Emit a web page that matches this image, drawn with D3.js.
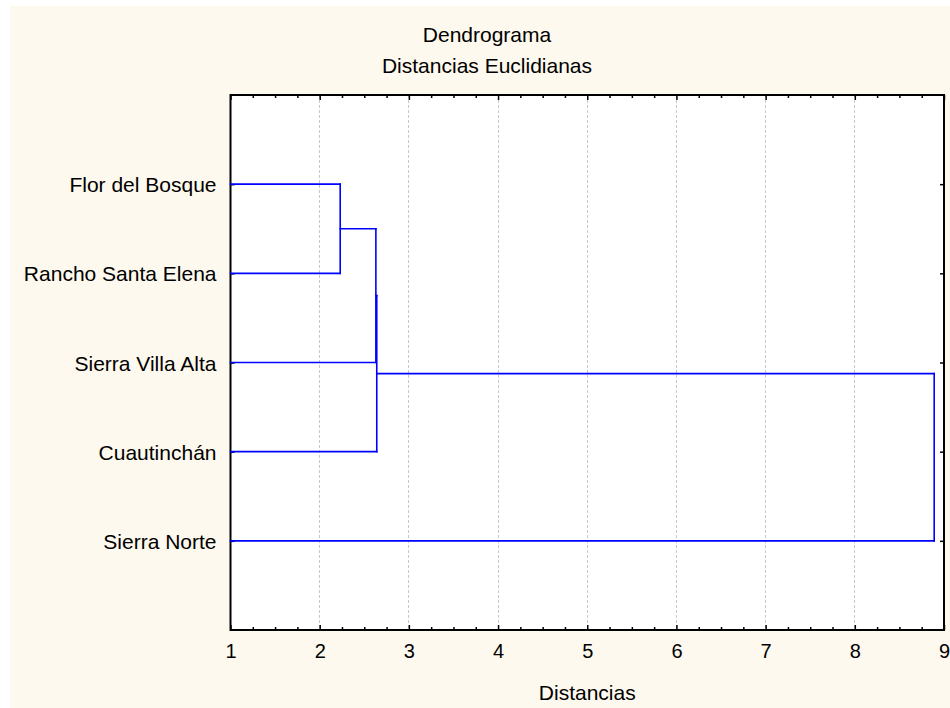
<!DOCTYPE html>
<html>
<head>
<meta charset="utf-8">
<script src="https://cdn.jsdelivr.net/npm/d3@7"></script>
<style>
  html, body { margin: 0; padding: 0; background: #ffffff; }
  svg { display: block; }
  text { font-family: "Liberation Sans", Arial, sans-serif; fill: #000; }
</style>
</head>
<body>
<svg id="chart" width="950" height="708"></svg>
<script>
// ---- Data ----
const leafLabels = ["Flor del Bosque", "Rancho Santa Elena", "Sierra Villa Alta", "Cuautinchán", "Sierra Norte"];
// linkage: ids >= leafLabels.length refer to previously formed clusters
const mergeA = [0, 5, 6, 7];
const mergeB = [1, 2, 3, 4];
const mergeDistance = [2.23, 2.63, 2.64, 8.89];
const xTicks = [1, 2, 3, 4, 5, 6, 7, 8, 9];
const titleLines = ["Dendrograma", "Distancias Euclidianas"];
const xAxisTitle = "Distancias";

// ---- Layout ----
const W = 950, H = 708;
const plot = { left: 230.5, right: 944, top: 95, bottom: 630 };
const svg = d3.select("#chart");

svg.append("rect").attr("x", 10).attr("y", 6).attr("width", W - 10).attr("height", H - 6)
  .attr("fill", "#fef9ee");
svg.append("rect").attr("x", plot.left).attr("y", plot.top)
  .attr("width", plot.right - plot.left).attr("height", plot.bottom - plot.top)
  .attr("fill", "#ffffff");

const x = d3.scaleLinear().domain([1, 9]).range([plot.left, plot.right]);
const y = d3.scaleLinear().domain([0, leafLabels.length + 1]).range([plot.top, plot.bottom]);
const rows = leafLabels.map((d, i) => i + 1);

// grid
svg.append("g").selectAll("line").data(xTicks.slice(1, -1)).join("line")
  .attr("x1", d => x(d)).attr("x2", d => x(d))
  .attr("y1", plot.top).attr("y2", plot.bottom)
  .attr("stroke", "#c8c8c8").attr("stroke-width", 1).attr("stroke-dasharray", "3,2")
  .attr("shape-rendering", "crispEdges");

// minor ticks
const minor = d3.range(1, 9.001, 0.25).filter(v => Math.abs(v - Math.round(v)) > 1e-6);
function styleAxis(g) {
  g.select(".domain").remove();
  g.selectAll(".tick line").attr("stroke", "#000").attr("stroke-width", 1.5);
}
svg.append("g").attr("transform", `translate(0,${plot.bottom})`)
  .call(d3.axisBottom(x).tickValues(minor).tickSizeInner(-3).tickSizeOuter(0).tickFormat(""))
  .call(styleAxis);
svg.append("g").attr("transform", `translate(0,${plot.top})`)
  .call(d3.axisTop(x).tickValues(minor).tickSizeInner(-3).tickSizeOuter(0).tickFormat(""))
  .call(styleAxis);

// major bottom axis
const xAxisG = svg.append("g").attr("transform", `translate(0,${plot.bottom})`)
  .call(d3.axisBottom(x).tickValues(xTicks).tickSizeInner(-5).tickSizeOuter(0).tickPadding(14).tickFormat(d3.format("d")))
  .call(styleAxis);
xAxisG.selectAll(".tick text").attr("font-size", 20).attr("font-family", "Liberation Sans, Arial, sans-serif").attr("fill", "#000");

svg.append("g").attr("transform", `translate(0,${plot.top})`)
  .call(d3.axisTop(x).tickValues(xTicks).tickSizeInner(-5).tickSizeOuter(0).tickFormat(""))
  .call(styleAxis);

// left axis with labels
const yAxisG = svg.append("g").attr("transform", `translate(${plot.left},0)`)
  .call(d3.axisLeft(y).tickValues(rows).tickSizeInner(-4).tickSizeOuter(0).tickPadding(14)
    .tickFormat(d => leafLabels[d - 1]))
  .call(styleAxis);
yAxisG.selectAll(".tick text").attr("font-size", 21).attr("font-family", "Liberation Sans, Arial, sans-serif")
  .attr("fill", "#000").attr("dy", "0.36em");

svg.append("g").attr("transform", `translate(${plot.right},0)`)
  .call(d3.axisRight(y).tickValues(rows).tickSizeInner(-4).tickSizeOuter(0).tickFormat(""))
  .call(styleAxis);

// frame
svg.append("rect").attr("x", plot.left).attr("y", plot.top)
  .attr("width", plot.right - plot.left).attr("height", plot.bottom - plot.top)
  .attr("fill", "none").attr("stroke", "#000").attr("stroke-width", 2);

// dendrogram
const nodes = leafLabels.map((d, i) => ({ x: x(1), y: y(i + 1) }));
const segs = [];
mergeA.forEach((a, i) => {
  const b = mergeB[i];
  const xm = x(mergeDistance[i]);
  const na = nodes[a], nb = nodes[b];
  segs.push([na.x, na.y, xm, na.y]);
  segs.push([nb.x, nb.y, xm, nb.y]);
  segs.push([xm, na.y, xm, nb.y]);
  nodes.push({ x: xm, y: (na.y + nb.y) / 2 });
});
svg.append("g").selectAll("line").data(segs).join("line")
  .attr("x1", d => d[0]).attr("y1", d => d[1]).attr("x2", d => d[2]).attr("y2", d => d[3])
  .attr("stroke", "#0000ff").attr("stroke-width", 1.6).attr("stroke-linecap", "square");

// titles
svg.append("g").selectAll("text").data(titleLines).join("text")
  .attr("x", 487).attr("y", (d, i) => 42 + i * 31)
  .attr("text-anchor", "middle").attr("font-size", 21)
  .text(d => d);

svg.append("text").attr("x", (plot.left + plot.right) / 2).attr("y", 700)
  .attr("text-anchor", "middle").attr("font-size", 21).text(xAxisTitle);
</script>
</body>
</html>
